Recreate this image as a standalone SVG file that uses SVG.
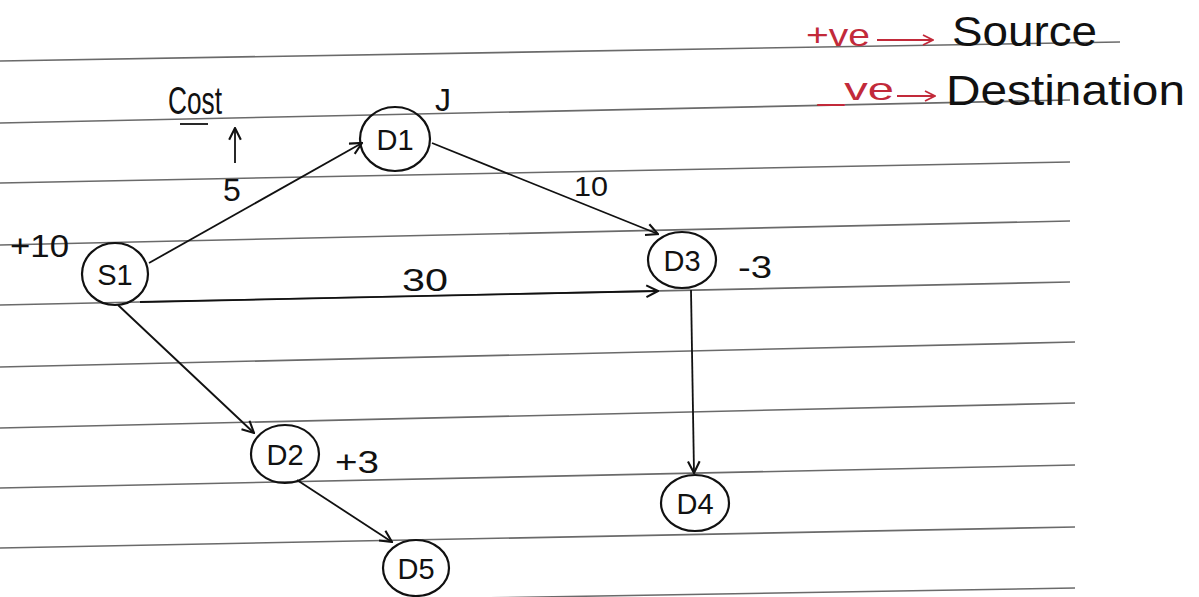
<svg xmlns="http://www.w3.org/2000/svg" width="1199" height="597" viewBox="0 0 1199 597">
<defs>
<style>
.rule{stroke:#6a6a6a;stroke-width:1.6;fill:none}
.node{fill:none;stroke:#111;stroke-width:2.2}
.lbl{font-family:"Liberation Sans",Arial,sans-serif;fill:#111;font-size:29px;text-anchor:middle}
.t{font-family:"Liberation Sans",Arial,sans-serif;fill:#111}
.edge{stroke:#111;stroke-width:1.8;fill:none}
.red{fill:#c22a3a}
</style>
<marker id="ah" viewBox="0 0 12 12" refX="11" refY="6" markerWidth="14" markerHeight="14" markerUnits="userSpaceOnUse" orient="auto">
<path d="M1,1 L11,6 L1,11" fill="none" stroke="#111" stroke-width="1.8"/>
</marker>
<marker id="ahr" viewBox="0 0 12 12" refX="11" refY="6" markerWidth="12" markerHeight="12" markerUnits="userSpaceOnUse" orient="auto">
<path d="M1,1 L11,6 L1,11" fill="none" stroke="#c22a3a" stroke-width="1.8"/>
</marker>
</defs>
<rect width="1199" height="597" fill="#ffffff"/>
<g id="rules">
<line class="rule" x1="0" y1="61" x2="1120" y2="42"/>
<line class="rule" x1="0" y1="123" x2="1070" y2="100"/>
<line class="rule" x1="0" y1="183" x2="1070" y2="162"/>
<line class="rule" x1="0" y1="245" x2="1070" y2="221"/>
<line class="rule" x1="0" y1="305" x2="1070" y2="282"/>
<line class="rule" x1="0" y1="367" x2="1075" y2="342"/>
<line class="rule" x1="0" y1="428" x2="1075" y2="403"/>
<line class="rule" x1="0" y1="488" x2="1075" y2="465"/>
<line class="rule" x1="0" y1="548" x2="1075" y2="527"/>
<line class="rule" x1="0" y1="606" x2="1075" y2="588"/>
</g>
<g id="legend">
<text class="t red" x="806" y="46" font-size="32" textLength="64" lengthAdjust="spacingAndGlyphs">+ve</text>
<line x1="877" y1="40" x2="933" y2="40" stroke="#c22a3a" stroke-width="1.8" marker-end="url(#ahr)"/>
<text class="t" x="952" y="46" font-size="42" textLength="145" lengthAdjust="spacingAndGlyphs">Source</text>
<text class="t red" x="818" y="100" font-size="32" textLength="76" lengthAdjust="spacingAndGlyphs">_ve</text>
<line x1="897" y1="96" x2="935" y2="96" stroke="#c22a3a" stroke-width="1.8" marker-end="url(#ahr)"/>
<text class="t" x="946" y="105" font-size="42" textLength="239" lengthAdjust="spacingAndGlyphs">Destination</text>
</g>
<g id="cost">
<text class="t" x="168" y="114" font-size="38" textLength="54" lengthAdjust="spacingAndGlyphs">Cost</text>
<line x1="180" y1="124" x2="208" y2="124" stroke="#111" stroke-width="1.8"/>
<line x1="235" y1="163" x2="235" y2="128" class="edge" marker-end="url(#ah)"/>
</g>
<g id="connectors">
<line class="edge" x1="149" y1="263" x2="362" y2="143" marker-end="url(#ah)"/>
<line class="edge" x1="432" y1="143" x2="658" y2="234" marker-end="url(#ah)"/>
<line class="edge" x1="140" y1="302" x2="658" y2="291" stroke-width="3" marker-end="url(#ah)"/>
<line class="edge" x1="118" y1="305" x2="254" y2="433" marker-end="url(#ah)"/>
<line class="edge" x1="297" y1="480" x2="392" y2="542" marker-end="url(#ah)"/>
<line class="edge" x1="691" y1="290" x2="694" y2="473" marker-end="url(#ah)"/>
<text class="t" x="223" y="201" font-size="32">5</text>
<text class="t" x="574" y="196" font-size="28" textLength="34" lengthAdjust="spacingAndGlyphs">10</text>
<text class="t" x="402" y="291" font-size="32" textLength="46" lengthAdjust="spacingAndGlyphs">30</text>
</g>
<g id="S1">
<ellipse class="node" cx="115" cy="274" rx="33" ry="31"/>
<text class="lbl" x="115" y="285">S1</text>
<text class="t" x="10" y="257" font-size="32" textLength="59" lengthAdjust="spacingAndGlyphs">+10</text>
</g>
<g id="D1">
<ellipse class="node" cx="395" cy="139" rx="35" ry="32"/>
<text class="lbl" x="395" y="150">D1</text>
<text class="t" x="435" y="111" font-size="32">J</text>
</g>
<g id="D3">
<ellipse class="node" cx="682" cy="260" rx="34" ry="28"/>
<text class="lbl" x="682" y="271">D3</text>
<text class="t" x="738" y="278" font-size="32" textLength="34" lengthAdjust="spacingAndGlyphs">-3</text>
</g>
<g id="D2">
<ellipse class="node" cx="285" cy="454" rx="34" ry="29"/>
<text class="lbl" x="285" y="465">D2</text>
<text class="t" x="335" y="473" font-size="32" textLength="44" lengthAdjust="spacingAndGlyphs">+3</text>
</g>
<g id="D4">
<ellipse class="node" cx="695" cy="503" rx="34" ry="28"/>
<text class="lbl" x="695" y="514">D4</text>
</g>
<g id="D5">
<ellipse class="node" cx="416" cy="568" rx="33" ry="28"/>
<text class="lbl" x="416" y="579">D5</text>
</g>
</svg>
